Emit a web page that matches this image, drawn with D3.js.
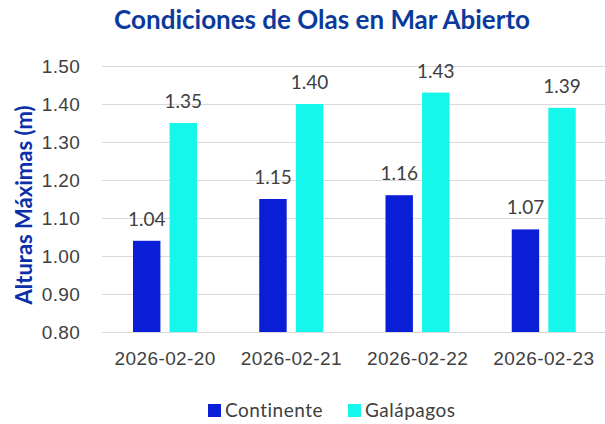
<!DOCTYPE html>
<meta charset="utf-8">
<style>
body { margin: 0; background: #fff; }
svg { display: block; font-family: Lato, "Open Sans", sans-serif; }
.grid line { stroke: #d9d9d9; stroke-width: 1px; shape-rendering: crispEdges; }
.axis text { fill: #404040; font-size: 19px; }
.value { fill: #404040; font-size: 19px; text-anchor: middle; }
</style>
<body>
<div id="chart"></div>
<script src="https://cdn.jsdelivr.net/npm/d3@7"></script>
<script>
// data
var fechas = ["2026-02-20", "2026-02-21", "2026-02-22", "2026-02-23"];
var series = ["Continente", "Galápagos"];
var continente = [1.04, 1.15, 1.16, 1.07];
var galapagos = [1.35, 1.40, 1.43, 1.39];
var yTicks = [0.80, 0.90, 1.00, 1.10, 1.20, 1.30, 1.40, 1.50];
var colores = ["#0a1ed8", "#14f7ea"];

var width = 605, height = 424;
var margin = {top: 66, right: -2, bottom: 92, left: 102};
var innerW = width - margin.left - margin.right,
    innerH = height - margin.top - margin.bottom;

var rows = fechas.map(function(f, i) {
  return {fecha: f, valores: [continente[i], galapagos[i]]};
});

var svg = d3.select("#chart").append("svg")
  .attr("width", width)
  .attr("height", height);

var g = svg.append("g")
  .attr("transform", "translate(" + margin.left + "," + margin.top + ")");

var x0 = d3.scaleBand().domain(fechas).range([0, innerW]);
var x1 = d3.scaleBand().domain(series).range([31, 95]).paddingInner(0.25);
var y = d3.scaleLinear().domain([0.8, 1.5]).range([innerH, 0]);

// gridlines
g.append("g").attr("class", "grid")
  .selectAll("line").data(yTicks).enter().append("line")
  .attr("x1", 0).attr("x2", innerW)
  .attr("y1", function(d) { return Math.round(y(d)) + 0.5; })
  .attr("y2", function(d) { return Math.round(y(d)) + 0.5; });

// y axis
var yAxis = g.append("g").attr("class", "axis")
  .call(d3.axisLeft(y).tickValues(yTicks).tickFormat(d3.format(".2f")).tickSize(0).tickPadding(22));
yAxis.select(".domain").remove();
yAxis.selectAll("text").attr("dy", "0.35em").style("letter-spacing", "0.3px");

// x axis
var xAxis = g.append("g").attr("class", "axis")
  .attr("transform", "translate(0," + innerH + ")")
  .call(d3.axisBottom(x0).tickSize(0).tickPadding(20));
xAxis.select(".domain").remove();
xAxis.selectAll("text").style("letter-spacing", "0.4px");

// bars
var grupos = g.selectAll(".grupo").data(rows).enter().append("g")
  .attr("class", "grupo")
  .attr("transform", function(d) { return "translate(" + x0(d.fecha) + ",0)"; });

var celdas = grupos.selectAll(".celda")
  .data(function(d) { return d.valores.map(function(v, i) { return {serie: series[i], v: v, i: i}; }); })
  .enter().append("g").attr("class", "celda");

celdas.append("rect")
  .attr("x", function(d) { return x1(d.serie); })
  .attr("y", function(d) { return y(d.v); })
  .attr("width", x1.bandwidth())
  .attr("height", function(d) { return innerH - y(d.v); })
  .attr("fill", function(d) { return colores[d.i]; });

celdas.append("text").attr("class", "value")
  .attr("x", function(d) { return x1(d.serie) + x1.bandwidth() / 2; })
  .attr("y", function(d) { return y(d.v) - 15; })
  .text(function(d) { return d3.format(".2f")(d.v); });

// title
svg.append("text")
  .attr("x", 322).attr("y", 29)
  .attr("text-anchor", "middle")
  .style("font-size", "26px").style("font-weight", "bold")
  .style("fill", "#0b3a9c")
  .text("Condiciones de Olas en Mar Abierto");

// y label
svg.append("text")
  .attr("transform", "translate(32,205) rotate(-90)")
  .attr("text-anchor", "middle")
  .style("font-size", "22px").style("font-weight", "bold")
  .style("fill", "#0a2fa8")
  .text("Alturas Máximas (m)");

// legend
var leyenda = svg.append("g").attr("transform", "translate(208,404)");
var items = [{n: series[0], c: colores[0], x: 0}, {n: series[1], c: colores[1], x: 140}];
var it = leyenda.selectAll("g").data(items).enter().append("g")
  .attr("transform", function(d) { return "translate(" + d.x + ",0)"; });
it.append("rect").attr("width", 13).attr("height", 13).attr("fill", function(d) { return d.c; });
it.append("text").attr("x", 17).attr("y", 13)
  .style("font-size", "19px").style("fill", "#404040").style("letter-spacing", "0.5px")
  .text(function(d) { return d.n; });
</script>
</body>
